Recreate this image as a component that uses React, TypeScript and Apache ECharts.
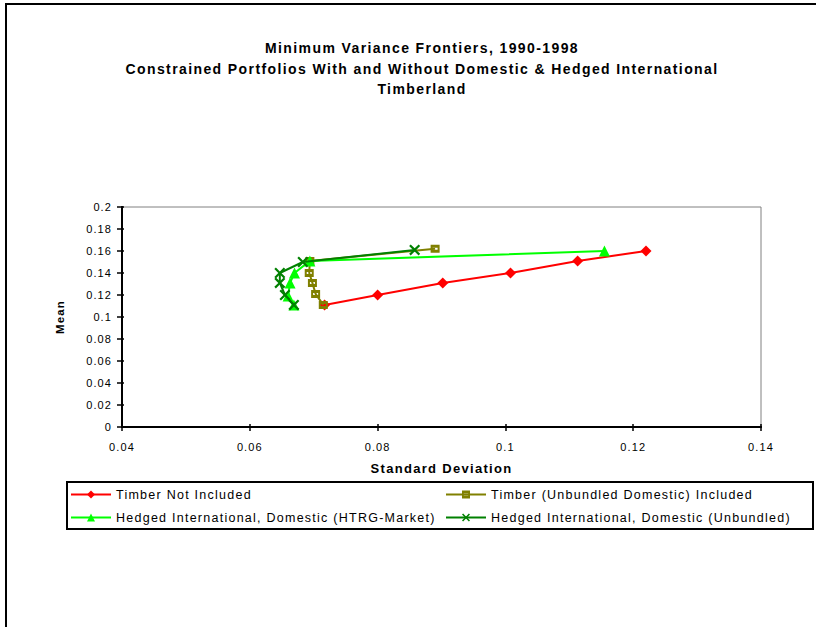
import React, { useEffect, useRef } from "react";
import * as echarts from "echarts";

const titleLines = [
  "Minimum Variance Frontiers, 1990-1998",
  "Constrained Portfolios With and Without Domestic & Hedged International",
  "Timberland",
];
const xAxisName = "Standard Deviation";
const yAxisName = "Mean";

const seriesNames = [
  "Timber Not Included",
  "Timber (Unbundled Domestic) Included",
  "Hedged International, Domestic (HTRG-Market)",
  "Hedged International, Domestic (Unbundled)",
];

const timberNotX = [0.0717, 0.08, 0.0902, 0.1008, 0.1113, 0.122];
const timberNotY = [0.111, 0.12, 0.131, 0.14, 0.151, 0.16];

const timberUnbX = [0.0715, 0.0703, 0.0698, 0.0693, 0.0694, 0.089];
const timberUnbY = [0.111, 0.121, 0.131, 0.14, 0.151, 0.162];

const hedgedHtrgX = [0.0669, 0.066, 0.0663, 0.067, 0.0694, 0.1155];
const hedgedHtrgY = [0.111, 0.119, 0.131, 0.14, 0.151, 0.16];

const hedgedUnbX = [0.0669, 0.0655, 0.0647, 0.0647, 0.0683, 0.0858];
const hedgedUnbY = [0.111, 0.12, 0.131, 0.14, 0.15, 0.161];

const colors = ["#FF0000", "#808000", "#00FF00", "#008000"];

const squareSym = "path://M0,0H9V8H0Z M2,3V5H7V3Z";
const crossSym =
  "path://M0,1.4L1.4,0L5,3.6L8.6,0L10,1.4L6.4,5L10,8.6L8.6,10L5,6.4L1.4,10L0,8.6L3.6,5Z";

const zip = (xs: number[], ys: number[]) => xs.map((x, i) => [x, ys[i]]);

const fmt = (v: number) => String(+Number(v).toFixed(2));

export default function App() {
  const ref = useRef<HTMLDivElement>(null);
  useEffect(() => {
    document.body.style.margin = "0";
    const chart = echarts.init(ref.current!, undefined, { renderer: "svg" });
    const font = "'Liberation Sans', Arial, sans-serif";
    const mk = (i: number, data: number[][], symbol: string, size: any) => ({
      name: seriesNames[i],
      type: "line",
      data,
      symbol,
      symbolSize: size,
      showSymbol: true,
      lineStyle: { color: colors[i], width: 2 },
      itemStyle: { color: colors[i], opacity: 1 },
      z: 2 + i,
      xAxisIndex: 0,
      yAxisIndex: 0,
    });
    const axisCommonX = {
      type: "value",
      min: 0.04,
      max: 0.14,
      interval: 0.02,
      splitLine: { show: false },
      axisLine: { show: true, onZero: false, lineStyle: { color: "#000", width: 2 } },
    };
    const axisCommonY = {
      type: "value",
      min: 0,
      max: 0.2,
      interval: 0.02,
      splitLine: { show: false },
      axisLine: { show: true, onZero: false, lineStyle: { color: "#000", width: 2 } },
    };
    chart.setOption({
      animation: false,
      backgroundColor: "#fff",
      textStyle: { fontFamily: font },
      title: {
        text: titleLines.join("\n"),
        left: 417,
        top: 33,
        textAlign: "center",
        textStyle: {
          fontFamily: font,
          fontSize: 14,
          fontWeight: "bold",
          color: "#000",
          lineHeight: 20.5,
        },
      },
      grid: {
        left: 122,
        right: 56,
        top: 207,
        bottom: 200,
        show: true,
        borderColor: "#808080",
        borderWidth: 1,
        backgroundColor: "transparent",
      },
      xAxis: [
        {
          ...axisCommonX,
          name: xAxisName,
          nameLocation: "middle",
          nameGap: 35,
          nameTextStyle: { fontFamily: font, fontSize: 13, fontWeight: "bold", color: "#000" },
          axisTick: { show: true, inside: false, length: 4, lineStyle: { color: "#000", width: 1.5 } },
          axisLabel: { fontFamily: font, fontSize: 11, color: "#000", margin: 14, formatter: fmt },
        },
        {
          ...axisCommonX,
          position: "bottom",
          axisTick: { show: true, inside: true, length: 3, lineStyle: { color: "#000", width: 1.5 } },
          axisLabel: { show: false },
        },
      ],
      yAxis: [
        {
          ...axisCommonY,
          name: yAxisName,
          nameLocation: "middle",
          nameGap: 56,
          nameTextStyle: { fontFamily: font, fontSize: 11.5, fontWeight: "bold", color: "#000" },
          axisTick: { show: true, inside: false, length: 5, lineStyle: { color: "#000", width: 1.5 } },
          axisLabel: { fontFamily: font, fontSize: 11, color: "#000", margin: 10, formatter: fmt },
        },
        {
          ...axisCommonY,
          position: "left",
          axisTick: { show: true, inside: true, length: 2, lineStyle: { color: "#000", width: 1.5 } },
          axisLabel: { show: false },
        },
      ],
      legend: [
        {
          data: [seriesNames[0], seriesNames[2]],
          orient: "vertical",
          left: 70,
          top: 488,
          itemWidth: 40,
          itemHeight: 10,
          itemGap: 10,
          textStyle: { fontFamily: font, fontSize: 12.5, color: "#000" },
          padding: 0,
        },
        {
          data: [seriesNames[1], seriesNames[3]],
          orient: "vertical",
          left: 445,
          top: 488,
          itemWidth: 40,
          itemHeight: 10,
          itemGap: 10,
          textStyle: { fontFamily: font, fontSize: 12.5, color: "#000" },
          padding: 0,
        },
      ],
      graphic: [
        {
          type: "rect",
          shape: { x: 67, y: 482, width: 746, height: 47 },
          style: { fill: "none", stroke: "#000", lineWidth: 2 },
          silent: true,
        },
        {
          type: "polyline",
          shape: { points: [[6, 627], [6, 4], [816, 4]] },
          style: { fill: "none", stroke: "#000", lineWidth: 2 },
          silent: true,
        },
      ],
      series: [
        mk(0, zip(timberNotX, timberNotY), "diamond", 11),
        mk(1, zip(timberUnbX, timberUnbY), squareSym, [9, 8]),
        mk(2, zip(hedgedHtrgX, hedgedHtrgY), "triangle", 11),
        mk(3, zip(hedgedUnbX, hedgedUnbY), crossSym, 11),
      ],
    });
    return () => chart.dispose();
  }, []);
  return (
    <>
      <style>{".chartbox text { letter-spacing: 0.1em; }"}</style>
      <div className="chartbox" ref={ref} style={{ width: 817, height: 627 }} />
    </>
  );
}
